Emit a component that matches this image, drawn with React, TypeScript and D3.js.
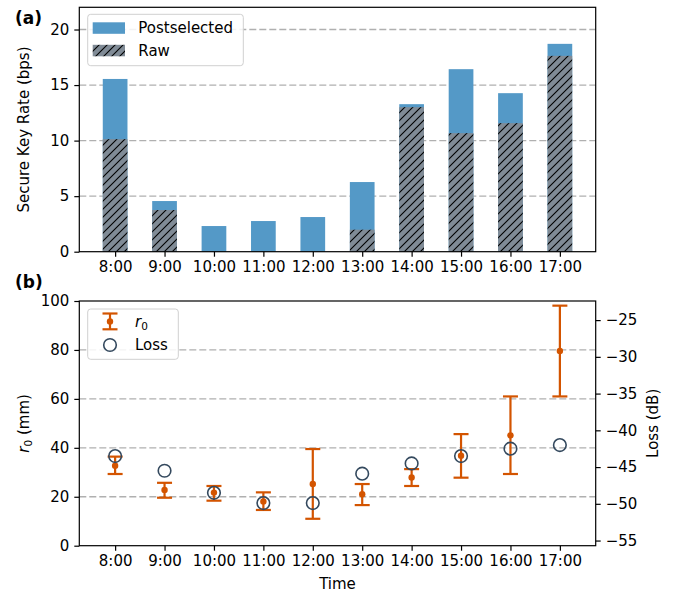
import React, { useEffect, useRef } from 'react'
import * as d3 from 'd3'

const times = ['8:00', '9:00', '10:00', '11:00', '12:00', '13:00', '14:00', '15:00', '16:00', '17:00']
const postselected = [15.55, 4.56, 2.31, 2.76, 3.12, 6.27, 13.28, 16.43, 14.27, 18.71]
const raw = [10.13, 3.75, 0, 0, 0, 1.98, 13.01, 10.67, 11.57, 17.63]
const r0 = [32.7, 22.8, 21.7, 18.1, 25.2, 21.0, 27.9, 36.8, 45.1, 79.6]
const r0Lower = [29.3, 19.6, 18.4, 14.6, 11.0, 16.6, 24.4, 27.8, 29.3, 61.0]
const r0Upper = [36.4, 25.7, 24.4, 21.8, 39.5, 25.2, 31.3, 45.6, 61.0, 98.1]
const loss = [-43.5, -45.5, -48.5, -49.9, -49.9, -45.9, -44.5, -43.5, -42.5, -42.0]
const rateTicks = [0, 5, 10, 15, 20]
const r0Ticks = [0, 20, 40, 60, 80, 100]
const lossTicks = [-55, -50, -45, -40, -35, -30, -25]

const W = 677
const H = 593
const FONT = 'DejaVu Sans'
const FS = 15
const BLUE = '#5499c7'
const GREY = '#808b96'
const ORANGE = '#d35400'
const NAVY = '#34495e'

function App() {
  const ref = useRef<SVGSVGElement>(null)

  useEffect(() => {
    const svg = d3.select(ref.current)
    svg.selectAll('*').remove()

    const defs = svg.append('defs')
    const pat = defs
      .append('pattern')
      .attr('id', 'hatch')
      .attr('patternUnits', 'userSpaceOnUse')
      .attr('width', 8)
      .attr('height', 8)
    pat.append('rect').attr('width', 8).attr('height', 8).attr('fill', GREY)
    pat
      .append('path')
      .attr('d', 'M-2,2 l4,-4 M0,8 l8,-8 M6,10 l4,-4')
      .attr('stroke', 'black')
      .attr('stroke-width', 1.1)

    const left = 79.3,
      right = 595.7
    const x = d3.scaleLinear().domain([-0.725, 9.725]).range([left, right])
    const idx = times.map((_, i) => i)
    const bw = x(0.5) - x(0)

    // ---- (a) secure key rate ----
    const aTop = 7.3,
      aBot = 251.7
    const yA = d3.scaleLinear().domain([0, 22]).range([aBot, aTop])
    const ga = svg.append('g')

    ga.selectAll('.grid')
      .data(rateTicks.filter(d => d > 0))
      .enter()
      .append('line')
      .attr('x1', left)
      .attr('x2', right)
      .attr('y1', d => yA(d))
      .attr('y2', d => yA(d))
      .attr('stroke', '#b0b0b0')
      .attr('stroke-width', 1.3)
      .attr('stroke-dasharray', '7,3')

    ga.selectAll('.post')
      .data(idx)
      .enter()
      .append('rect')
      .attr('x', i => x(i) - bw / 2)
      .attr('width', bw)
      .attr('y', i => yA(postselected[i]))
      .attr('height', i => aBot - yA(postselected[i]))
      .attr('fill', BLUE)

    ga.selectAll('.raw')
      .data(idx.filter(i => raw[i] > 0))
      .enter()
      .append('rect')
      .attr('x', i => x(i) - bw / 2)
      .attr('width', bw)
      .attr('y', i => yA(raw[i]))
      .attr('height', i => aBot - yA(raw[i]))
      .attr('fill', 'url(#hatch)')

    const axA = ga.append('g').attr('transform', `translate(0,${aBot})`)
    axA.call(
      d3.axisBottom(x).tickValues(idx).tickFormat(i => times[i as number]).tickSize(5).tickPadding(5)
    )
    const ayA = ga.append('g').attr('transform', `translate(${left},0)`)
    ayA.call(d3.axisLeft(yA).tickValues(rateTicks).tickSize(5).tickPadding(5))

    ga.append('rect')
      .attr('x', left)
      .attr('y', aTop)
      .attr('width', right - left)
      .attr('height', aBot - aTop)
      .attr('fill', 'none')
      .attr('stroke', 'black')
      .attr('stroke-width', 1.2)

    ga.append('text')
      .attr('transform', `translate(29,${(aTop + aBot) / 2}) rotate(-90)`)
      .attr('text-anchor', 'middle')
      .text('Secure Key Rate (bps)')

    // legend a
    const la = ga.append('g')
    la.append('rect')
      .attr('x', 87.7)
      .attr('y', 14.3)
      .attr('width', 155.6)
      .attr('height', 51.4)
      .attr('rx', 3)
      .attr('fill', 'white')
      .attr('fill-opacity', 0.85)
      .attr('stroke', '#d0d0d0')
    la.append('rect').attr('x', 92.7).attr('y', 22.3).attr('width', 32.3).attr('height', 11.5).attr('fill', BLUE)
    la.append('rect').attr('x', 92.7).attr('y', 44.8).attr('width', 32.3).attr('height', 11.5).attr('fill', 'url(#hatch)')
    la.append('text').attr('x', 138.3).attr('y', 33).text('Postselected')
    la.append('text').attr('x', 138.3).attr('y', 55.7).text('Raw')

    svg.append('text')
      .attr('x', 15)
      .attr('y', 24)
      .attr('font-weight', 'bold')
      .attr('font-size', 17)
      .text('(a)')

    // ---- (b) r0 and loss ----
    const bTop = 301,
      bBot = 545.7
    const yB = d3.scaleLinear().domain([0, 100]).range([bBot, bTop])
    const yL = d3.scaleLinear().domain([-55.7, -22.4]).range([bBot, bTop])
    const gb = svg.append('g')

    gb.selectAll('.grid')
      .data(r0Ticks.filter(d => d > 0 && d < 100))
      .enter()
      .append('line')
      .attr('x1', left)
      .attr('x2', right)
      .attr('y1', d => yB(d))
      .attr('y2', d => yB(d))
      .attr('stroke', '#b0b0b0')
      .attr('stroke-width', 1.3)
      .attr('stroke-dasharray', '7,3')

    const cap = 7.5
    const eb = gb.selectAll('.eb').data(idx).enter().append('g')
    eb.append('line')
      .attr('x1', i => x(i))
      .attr('x2', i => x(i))
      .attr('y1', i => yB(r0Lower[i]))
      .attr('y2', i => yB(r0Upper[i]))
    eb.append('line')
      .attr('x1', i => x(i) - cap)
      .attr('x2', i => x(i) + cap)
      .attr('y1', i => yB(r0Lower[i]))
      .attr('y2', i => yB(r0Lower[i]))
    eb.append('line')
      .attr('x1', i => x(i) - cap)
      .attr('x2', i => x(i) + cap)
      .attr('y1', i => yB(r0Upper[i]))
      .attr('y2', i => yB(r0Upper[i]))
    eb.selectAll('line').attr('stroke', ORANGE).attr('stroke-width', 2.2)
    eb.append('circle')
      .attr('cx', i => x(i))
      .attr('cy', i => yB(r0[i]))
      .attr('r', 3.2)
      .attr('fill', ORANGE)

    gb.selectAll('.loss')
      .data(idx)
      .enter()
      .append('circle')
      .attr('cx', i => x(i))
      .attr('cy', i => yL(loss[i]))
      .attr('r', 6.3)
      .attr('fill', 'none')
      .attr('stroke', NAVY)
      .attr('stroke-width', 1.6)

    const axB = gb.append('g').attr('transform', `translate(0,${bBot})`)
    axB.call(
      d3.axisBottom(x).tickValues(idx).tickFormat(i => times[i as number]).tickSize(5).tickPadding(5)
    )
    const ayB = gb.append('g').attr('transform', `translate(${left},0)`)
    ayB.call(d3.axisLeft(yB).tickValues(r0Ticks).tickSize(5).tickPadding(5))
    const ayR = gb.append('g').attr('transform', `translate(${right},0)`)
    ayR.call(d3.axisRight(yL).tickValues(lossTicks).tickSize(5).tickPadding(5))

    gb.append('rect')
      .attr('x', left)
      .attr('y', bTop)
      .attr('width', right - left)
      .attr('height', bBot - bTop)
      .attr('fill', 'none')
      .attr('stroke', 'black')
      .attr('stroke-width', 1.2)

    const r0Label = gb
      .append('text')
      .attr('transform', `translate(29,${(bTop + bBot) / 2}) rotate(-90)`)
      .attr('text-anchor', 'middle')
    r0Label.append('tspan').attr('font-style', 'italic').text('r')
    r0Label.append('tspan').attr('font-size', 10.5).attr('dy', 3).text('0')
    r0Label.append('tspan').attr('dy', -3).text(' (mm)')

    gb.append('text')
      .attr('transform', `translate(657.5,${(bTop + bBot) / 2}) rotate(-90)`)
      .attr('text-anchor', 'middle')
      .text('Loss (dB)')

    gb.append('text')
      .attr('x', (left + right) / 2)
      .attr('y', 589)
      .attr('text-anchor', 'middle')
      .text('Time')

    // legend b
    const lb = gb.append('g')
    lb.append('rect')
      .attr('x', 87.7)
      .attr('y', 309)
      .attr('width', 90.6)
      .attr('height', 50.3)
      .attr('rx', 3)
      .attr('fill', 'white')
      .attr('fill-opacity', 0.85)
      .attr('stroke', '#d0d0d0')
    const lx = 110
    lb.append('line').attr('x1', lx).attr('x2', lx).attr('y1', 313.5).attr('y2', 329.3)
    lb.append('line').attr('x1', lx - cap).attr('x2', lx + cap).attr('y1', 313.5).attr('y2', 313.5)
    lb.append('line').attr('x1', lx - cap).attr('x2', lx + cap).attr('y1', 329.3).attr('y2', 329.3)
    lb.selectAll('line').attr('stroke', ORANGE).attr('stroke-width', 2.2)
    lb.append('circle').attr('cx', lx).attr('cy', 321.4).attr('r', 3.2).attr('fill', ORANGE)
    lb.append('circle')
      .attr('cx', lx)
      .attr('cy', 345)
      .attr('r', 6.3)
      .attr('fill', 'none')
      .attr('stroke', NAVY)
      .attr('stroke-width', 1.6)
    const lt = lb.append('text').attr('x', 135).attr('y', 326.5)
    lt.append('tspan').attr('font-style', 'italic').text('r')
    lt.append('tspan').attr('font-size', 10.5).attr('dy', 3).text('0')
    lb.append('text').attr('x', 135).attr('y', 349.5).text('Loss')

    svg.append('text')
      .attr('x', 15)
      .attr('y', 288)
      .attr('font-weight', 'bold')
      .attr('font-size', 17)
      .text('(b)')

    // common text/axis styling
    svg.selectAll('.tick text').attr('font-size', FS).attr('font-family', FONT).attr('fill', 'black')
    svg.selectAll('.tick line').attr('stroke', 'black').attr('stroke-width', 1.2)
    svg.selectAll('.domain').remove()
  }, [])

  return (
    <svg
      ref={ref}
      width={W}
      height={H}
      fontFamily={FONT}
      fontSize={FS}
      style={{ position: 'absolute', left: 0, top: 0, display: 'block', background: 'white' }}
    />
  )
}

export default App
